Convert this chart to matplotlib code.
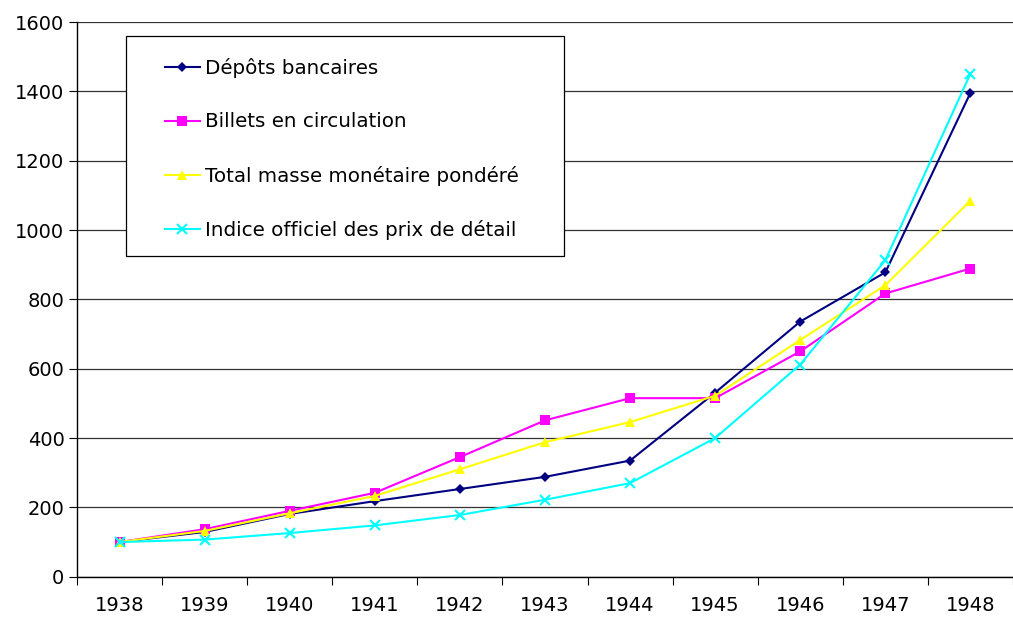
import matplotlib
matplotlib.use("Agg")
import matplotlib.pyplot as plt
from matplotlib.patches import Rectangle
import numpy as np

years = ["1938", "1939", "1940", "1941", "1942", "1943", "1944", "1945", "1946", "1947", "1948"]
depots = [100, 129, 181, 218, 253, 288, 335, 531, 736, 878, 1396]
billets = [100, 137, 190, 242, 345, 451, 515, 515, 650, 817, 889]
total = [100, 132, 183, 233, 310, 388, 446, 522, 683, 841, 1085]
indice = [100, 107, 126, 148, 178, 222, 270, 400, 612, 913, 1451]
labels = ["Dépôts bancaires", "Billets en circulation",
          "Total masse monétaire pondéré", "Indice officiel des prix de détail"]
yticks = [0, 200, 400, 600, 800, 1000, 1200, 1400, 1600]

plt.rcParams['font.family'] = ['DejaVu Sans']
fig = plt.figure(figsize=(10.13, 6.17), dpi=100)
ax = fig.add_axes([0.076, 0.0653, 0.924, 0.899])

x = np.arange(len(years))
series = [depots, billets, total, indice]
colors = ['#000080', '#FF00FF', '#FFFF00', '#00FFFF']
markers = ['D', 's', '^', 'x']
msizes = [5, 7, 7, 7]
for s, c, m, ms, lab in zip(series, colors, markers, msizes, labels):
    kw = dict(markeredgewidth=1.5) if m == 'x' else dict(markeredgewidth=0)
    ax.plot(x, s, color=c, marker=m, markersize=ms, linewidth=1.5,
            markerfacecolor=c, markeredgecolor=c, label=lab, **kw)

ax.set_xlim(-0.5, len(years) - 0.5)
ax.set_ylim(0, 1600)
ax.set_yticks(yticks)
ax.set_yticklabels([str(v) for v in yticks], fontsize=14)
ax.set_xticks(np.arange(-0.5, len(years), 1.0))
ax.set_xticklabels([])
ax.set_xticks(x, minor=True)
ax.set_xticklabels(years, minor=True, fontsize=14)
ax.tick_params(axis='x', which='minor', length=0, pad=14)
ax.tick_params(axis='x', which='major', length=6, direction='out', color='black')
ax.tick_params(axis='y', length=6, direction='out', pad=3)
ax.yaxis.grid(True, color='#333333', linewidth=0.9)
ax.set_axisbelow(True)
for sp in ['top', 'right']:
    ax.spines[sp].set_visible(False)
for sp in ['left', 'bottom']:
    ax.spines[sp].set_color('black')
    ax.spines[sp].set_linewidth(1.0)

# legend frame
ax.add_patch(Rectangle((0.0524, 0.5782), 0.5203 - 0.0524, 0.9748 - 0.5782,
                       transform=ax.transAxes, facecolor='white', edgecolor='black',
                       linewidth=0.9, zorder=4, clip_on=False))
leg = ax.legend(loc='upper left', bbox_to_anchor=(0.094, 0.9346), borderaxespad=0,
                fontsize=14.3, frameon=False, handlelength=1.75, handletextpad=0.25,
                labelspacing=1.72, borderpad=0)
leg.set_zorder(5)

fig.savefig("out.png", dpi=100)
